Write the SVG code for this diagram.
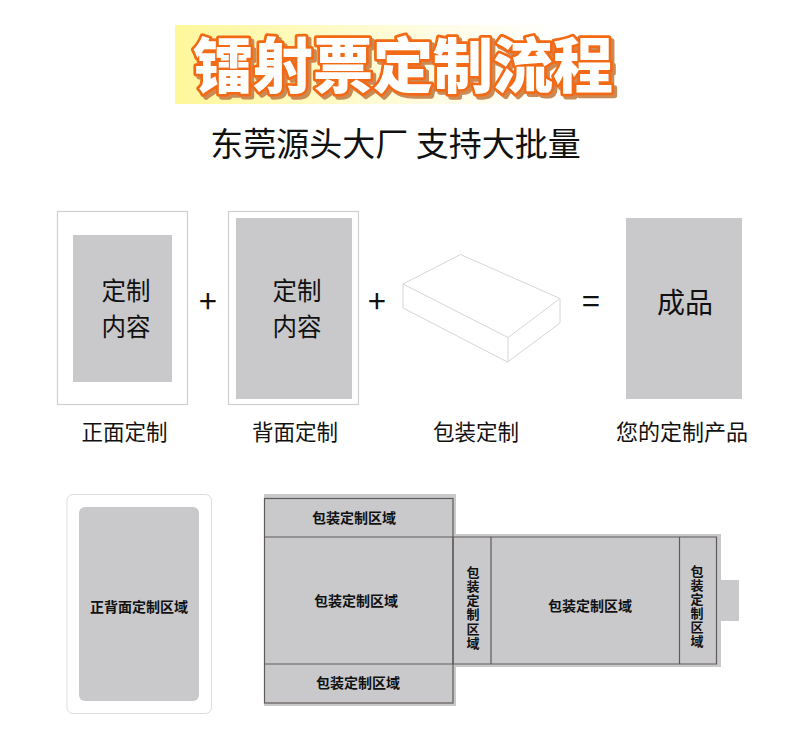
<svg xmlns="http://www.w3.org/2000/svg" width="790" height="746" viewBox="0 0 790 746">
<defs>
<linearGradient id="banner" x1="0" y1="0" x2="1" y2="0"><stop offset="0" stop-color="#fff79a"/><stop offset="0.6" stop-color="#fffde8"/><stop offset="0.85" stop-color="#ffffff"/></linearGradient>
<filter id="shadow" x="-5%" y="-10%" width="110%" height="125%"><feDropShadow dx="3" dy="3" stdDeviation="0.6" flood-color="#c98a52"/></filter>
</defs>
<style>
text{font-family:"Noto Sans CJK SC","Noto Sans",sans-serif;text-anchor:middle;dominant-baseline:central;fill:#111}
.title{font-size:60px;font-weight:900;fill:#fff;stroke:#f26a12;stroke-width:5.5;stroke-linejoin:round;paint-order:stroke}
.sub{font-size:33px;font-weight:400}
.lab{font-size:21.5px}
.big{font-size:24.5px}
.op{font-size:32px}
.net{font-size:14px;font-weight:700}
.vert{font-size:13px;font-weight:700;letter-spacing:1.1px;writing-mode:vertical-rl;dominant-baseline:auto}
.card{fill:#fff;stroke:#cfcfcf;stroke-width:1.2}
.gray{fill:#c9c9cb}
.box{fill:#fff;stroke:#d6d6d6;stroke-width:1;stroke-linejoin:round}
.ln{fill:none;stroke:#5f5a58;stroke-width:1.2}
</style>
<rect width="790" height="746" fill="#fff"/>
<g id="title">
<rect x="175" y="25" width="455" height="79" fill="url(#banner)"/>
<text class="title" x="403" y="61" filter="url(#shadow)">镭射票定制流程</text>
</g>
<text id="subtitle" class="sub" x="395.500" y="142">东莞源头大厂 支持大批量</text>
<g id="front">
<rect class="card" x="57.5" y="211.5" width="130" height="193"/>
<rect class="gray" x="73" y="235" width="99" height="147"/>
<text class="big" x="126" y="289">定制</text><text class="big" x="126" y="325">内容</text>
<text class="lab" x="124.5" y="430">正面定制</text>
</g>
<text id="plus1" class="op" x="208" y="299">+</text>
<g id="back">
<rect class="card" x="228.5" y="211.5" width="130" height="193"/>
<rect class="gray" x="236" y="218" width="116" height="181"/>
<text class="big" x="297" y="289">定制</text><text class="big" x="297" y="325">内容</text>
<text class="lab" x="295" y="430">背面定制</text>
</g>
<text id="plus2" class="op" x="377" y="299">+</text>
<g id="package">
<path class="box" d="M460.5 254.5L560 298.5L508 337.500L403 284ZM403 284V308L507.500 362L560 323V298.500M508 337.500V362"/>
<text class="lab" x="476" y="430">包装定制</text>
</g>
<text id="equals" class="op" x="591" y="299">=</text>
<g id="product">
<rect class="gray" x="626" y="218" width="116" height="181"/>
<text x="685" y="301" style="font-size:28px">成品</text>
<text class="lab" x="682" y="430" style="font-size:22px">您的定制产品</text>
</g>
<g id="card-area">
<rect x="67" y="494.500" width="144.500" height="219" rx="6" fill="#fff" stroke="#dcdcdc"/>
<rect class="gray" x="79" y="507" width="120" height="194" rx="6"/>
<text class="net" x="139" y="606">正背面定制区域</text>
</g>
<g id="net">
<path class="gray" d="M264 494H456V534H721V580H739V621H721V667H456V706H264Z"/>
<g id="connectors">
<rect class="ln" x="264.500" y="498.500" width="188.500" height="204.500"/>
<path class="ln" d="M264.500 537H716.500V664H264.500M491 537V664M679.500 537V664M453 537V664"/>
</g>
<text class="net" x="354" y="517">包装定制区域</text>
<text class="net" x="356" y="600">包装定制区域</text>
<text class="net" x="358" y="682">包装定制区域</text>
<text class="net" x="590" y="605">包装定制区域</text>
<text class="vert" x="473" y="608">包装定制区域</text>
<text class="vert" x="697" y="606.500">包装定制区域</text>
</g>
</svg>
